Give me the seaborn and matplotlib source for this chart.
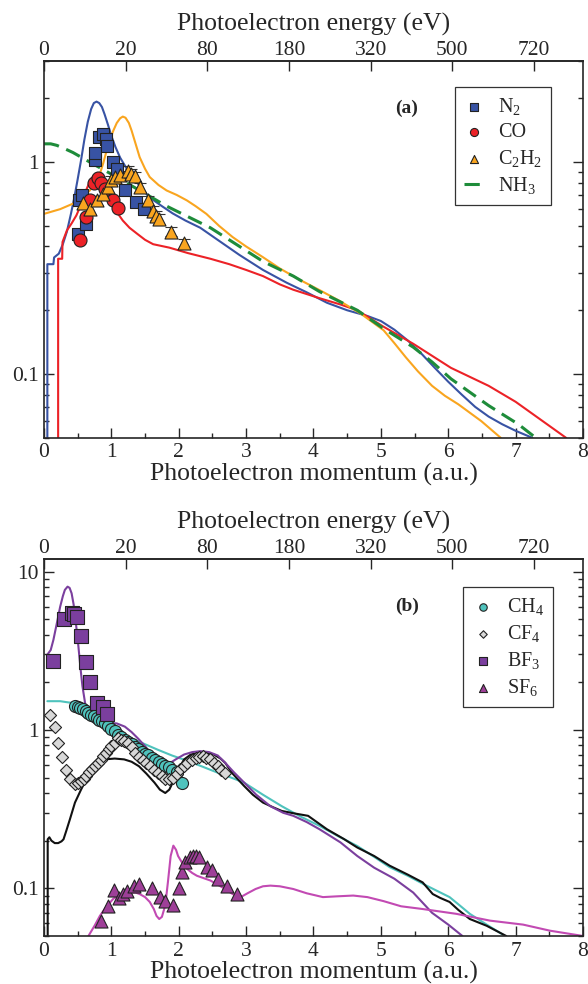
import numpy as np
import pandas as pd
import matplotlib
matplotlib.use("Agg")
import matplotlib.pyplot as plt
import seaborn as sns
from matplotlib.ticker import LogLocator, MultipleLocator, FuncFormatter, NullFormatter

# ---------------- data ----------------
HARTREE = 27.211
E_TICKS = [0, 20, 80, 180, 320, 500, 720]

# panel (a): theory curves
N2_K = [0.05, 0.05, 0.14, 0.15, 0.22, 0.28, 0.34, 0.40, 0.45, 0.50, 0.55, 0.60, 0.65, 0.70, 0.74, 0.78, 0.82, 0.86,
        0.90, 0.95, 1.00, 1.06, 1.13, 1.22, 1.32, 1.45, 1.57, 1.75, 1.91, 2.1, 2.32, 2.6, 2.9, 3.25, 3.6, 3.9, 4.2,
        4.5, 4.8, 5.0, 5.2, 5.4, 5.6, 5.8, 6.0, 6.2, 6.4, 6.6, 6.8, 7.0, 7.25]
N2_Y = [0.04, 0.33, 0.33, 0.355, 0.37, 0.41, 0.47, 0.57, 0.68, 0.83, 1.02, 1.28, 1.55, 1.78, 1.9, 1.93, 1.9, 1.82,
        1.68, 1.5, 1.33, 1.18, 1.05, 0.94, 0.85, 0.75, 0.68, 0.62, 0.573, 0.53, 0.49, 0.425, 0.365, 0.31, 0.27, 0.243,
        0.217, 0.200, 0.188, 0.178, 0.162, 0.144, 0.125, 0.107, 0.092, 0.08, 0.07, 0.063, 0.058, 0.054, 0.05]
CO_K = [0.21, 0.21, 0.27, 0.275, 0.34, 0.41, 0.48, 0.55, 0.62, 0.68, 0.73, 0.78, 0.83, 0.88, 0.93, 0.98, 1.04, 1.10,
        1.17, 1.27, 1.38, 1.50, 1.62, 1.86, 2.14, 2.47, 2.75, 3.0, 3.25, 3.5, 3.7, 4.09, 4.4, 4.65, 5.03, 5.48, 6.04,
        6.6, 7.0, 7.75]
CO_Y = [0.04, 0.35, 0.35, 0.42, 0.476, 0.514, 0.56, 0.63, 0.73, 0.81, 0.86, 0.885, 0.875, 0.84, 0.78, 0.71, 0.63, 0.57,
        0.53, 0.49, 0.46, 0.43, 0.41, 0.395, 0.372, 0.35, 0.33, 0.31, 0.29, 0.265, 0.25, 0.228, 0.213, 0.2, 0.168,
        0.139, 0.107, 0.088, 0.074, 0.05]
C2H2_K = [0.0, 0.24, 0.485, 0.68, 0.76, 0.83, 0.88, 0.93, 0.98, 1.03, 1.08, 1.13, 1.17, 1.21, 1.26, 1.3, 1.36, 1.42,
          1.5, 1.57, 1.7, 1.82, 1.97, 2.12, 2.25, 2.41, 2.6, 2.8, 3.0, 3.25, 3.5, 3.81, 4.1, 4.37, 4.7, 5.04, 5.2,
          5.37, 5.55, 5.76, 5.95, 6.15, 6.49, 6.78]
C2H2_Y = [0.57, 0.60, 0.648, 0.735, 0.8, 0.88, 0.99, 1.135, 1.28, 1.41, 1.53, 1.61, 1.64, 1.62, 1.53, 1.41, 1.22,
          1.055, 0.93, 0.85, 0.78, 0.735, 0.70, 0.66, 0.62, 0.57, 0.5, 0.443, 0.40, 0.356, 0.315, 0.277, 0.248, 0.223,
          0.193, 0.161, 0.14, 0.12, 0.103, 0.088, 0.079, 0.072, 0.06, 0.05]
NH3_K = [0.0, 0.1, 0.19, 0.3, 0.43, 0.73, 1.08, 1.42, 1.82, 2.47, 3.25, 3.7, 4.09, 4.65, 5.04, 5.48, 5.76, 6.04, 6.6,
         7.04, 7.3]
NH3_Y = [1.22, 1.22, 1.2, 1.16, 1.11, 0.98, 0.85, 0.735, 0.62, 0.49, 0.34, 0.29, 0.245, 0.2, 0.164, 0.134, 0.114,
         0.095, 0.071, 0.058, 0.05]

# panel (a): experiment
N2_EXP_K = [0.50, 0.52, 0.56, 0.63, 0.76, 0.76, 0.82, 0.87, 0.92, 0.94, 1.03, 1.08, 1.20, 1.36, 1.48]
N2_EXP_Y = [0.46, 0.66, 0.70, 0.51, 1.02, 1.11, 1.31, 1.36, 1.29, 1.19, 1.00, 0.93, 0.74, 0.65, 0.60]
CO_EXP_K = [0.54, 0.62, 0.68, 0.74, 0.80, 0.85, 0.90, 1.03, 1.10]
CO_EXP_Y = [0.43, 0.55, 0.66, 0.80, 0.84, 0.80, 0.75, 0.66, 0.61]
C2H2_EXP_K = [0.58, 0.69, 0.79, 0.88, 0.95, 1.00, 1.05, 1.13, 1.24, 1.29, 1.35, 1.42, 1.55, 1.62, 1.66, 1.71,
              1.89, 2.08]
C2H2_EXP_Y = [0.64, 0.60, 0.66, 0.71, 0.76, 0.82, 0.85, 0.866, 0.91, 0.88, 0.86, 0.76, 0.66, 0.59, 0.56, 0.54,
              0.47, 0.415]

# panel (b): theory curves
BF3_K = [0.05, 0.10, 0.14, 0.19, 0.24, 0.28, 0.31, 0.35, 0.38, 0.41, 0.44, 0.47, 0.51, 0.54, 0.57, 0.61, 0.65, 0.70,
         0.78, 0.93, 1.08, 1.2, 1.3, 1.4, 1.5, 1.6, 1.7, 1.78, 1.85, 1.95, 2.08, 2.2, 2.32, 2.45, 2.58, 2.69, 2.82,
         2.97, 3.15, 3.36, 3.55, 3.70, 3.9, 4.09, 4.4, 4.65, 4.9, 5.2, 5.48, 5.76, 6.0, 6.21]
BF3_Y = [2.99, 3.2, 3.71, 4.7, 6.0, 7.0, 7.67, 8.04, 7.9, 7.3, 6.2, 4.9, 3.4, 2.5, 1.9, 1.48, 1.3, 1.2, 1.14, 1.11,
         1.10, 1.05, 0.97, 0.88, 0.79, 0.70, 0.63, 0.60, 0.61, 0.65, 0.70, 0.725, 0.735, 0.725, 0.69, 0.62, 0.54,
         0.466, 0.39, 0.33, 0.30, 0.287, 0.262, 0.236, 0.195, 0.16, 0.135, 0.115, 0.094, 0.07, 0.059, 0.05]
CH4_K = [0.05, 0.15, 0.24, 0.33, 0.43, 0.53, 0.63, 0.73, 0.83, 0.93, 1.03, 1.13, 1.24, 1.45, 1.69, 1.9, 2.14, 2.36,
         2.58, 2.78, 2.97, 3.25, 3.53, 3.8, 4.09, 4.37, 4.65, 4.9, 5.13, 5.4, 5.62, 5.82, 6.02, 6.17, 6.32, 6.57, 6.81]
CH4_Y = [1.52, 1.52, 1.52, 1.5, 1.48, 1.43, 1.38, 1.29, 1.19, 1.12, 1.06, 0.98, 0.91, 0.83, 0.75, 0.69, 0.636, 0.585,
         0.537, 0.50, 0.465, 0.39, 0.33, 0.285, 0.248, 0.213, 0.185, 0.158, 0.136, 0.12, 0.107, 0.097, 0.088, 0.078,
         0.069, 0.059, 0.051]
CF4_K = [0.055, 0.055, 0.08, 0.11, 0.16, 0.21, 0.26, 0.29, 0.33, 0.385, 0.46, 0.55, 0.63, 0.74, 0.82, 0.9, 1.05, 1.19,
         1.3, 1.41, 1.52, 1.64, 1.72, 1.8, 1.86, 1.91, 2.0, 2.08, 2.18, 2.3, 2.42, 2.52, 2.62, 2.69, 2.8, 2.97, 3.1,
         3.25, 3.4, 3.53, 3.7, 3.92, 4.05, 4.2, 4.45, 4.65, 4.9, 5.13, 5.4, 5.62, 5.77, 5.88, 6.02, 6.15, 6.32, 6.57,
         6.86]
CF4_Y = [0.04, 0.204, 0.21, 0.2, 0.193, 0.193, 0.198, 0.204, 0.23, 0.273, 0.348, 0.42, 0.49, 0.58, 0.63, 0.652, 0.66,
         0.652, 0.63, 0.59, 0.53, 0.465, 0.42, 0.40, 0.42, 0.465, 0.57, 0.652, 0.70, 0.718, 0.715, 0.70, 0.66, 0.62,
         0.53, 0.443, 0.39, 0.348, 0.325, 0.308, 0.298, 0.287, 0.262, 0.236, 0.205, 0.181, 0.16, 0.139, 0.122, 0.109,
         0.092, 0.087, 0.082, 0.073, 0.064, 0.058, 0.05]
SF6_K = [0.66, 0.75, 0.83, 0.93, 1.03, 1.15, 1.28, 1.36, 1.42, 1.5, 1.57, 1.63, 1.67, 1.71, 1.75, 1.8, 1.84, 1.88,
         1.92, 1.96, 1.99, 2.05, 2.12, 2.2, 2.27, 2.47, 2.69, 2.8, 2.92, 3.02, 3.14, 3.25, 3.36, 3.5, 3.7, 3.9, 4.14,
         4.35, 4.59, 4.8, 5.04, 5.3, 5.62, 6.12, 6.62, 7.11, 7.51, 8.0]
SF6_Y = [0.05, 0.058, 0.067, 0.077, 0.086, 0.092, 0.094, 0.094, 0.092, 0.088, 0.082, 0.074, 0.067, 0.064, 0.066,
         0.078, 0.11, 0.16, 0.186, 0.175, 0.16, 0.145, 0.133, 0.125, 0.12, 0.112, 0.099, 0.092, 0.088, 0.093, 0.099,
         0.103, 0.104, 0.103, 0.099, 0.093, 0.088, 0.089, 0.09, 0.088, 0.083, 0.077, 0.074, 0.069, 0.0625, 0.059,
         0.054, 0.05]

# panel (b): experiment
CH4_EXP_K = [0.46, 0.50, 0.54, 0.58, 0.62, 0.66, 0.70, 0.74, 0.78, 0.82, 0.86, 0.90, 0.95, 1.00, 1.05, 1.10, 1.15,
             1.20, 1.25, 1.30, 1.35, 1.40, 1.45, 1.50, 1.55, 1.60, 1.65, 1.70, 1.75, 1.80, 1.85, 1.90, 1.97, 2.05]
CH4_EXP_Y = [1.41, 1.40, 1.38, 1.35, 1.31, 1.28, 1.25, 1.22, 1.19, 1.16, 1.14, 1.10, 1.06, 1.02, 0.98, 0.93, 0.90,
             0.87, 0.84, 0.81, 0.78, 0.76, 0.73, 0.71, 0.69, 0.67, 0.65, 0.63, 0.61, 0.59, 0.58, 0.56, 0.54, 0.465]
CF4_EXP_K = [0.09, 0.16, 0.21, 0.27, 0.32, 0.38, 0.46, 0.51, 0.55, 0.59, 0.63, 0.67, 0.71, 0.75, 0.80, 0.84, 0.88,
             0.92, 0.96, 1.00, 1.05, 1.10, 1.14, 1.19, 1.24, 1.30, 1.35, 1.41, 1.47, 1.52, 1.58, 1.63, 1.69, 1.75,
             1.80, 1.86, 1.91, 1.97, 2.02, 2.08, 2.13, 2.19, 2.25, 2.30, 2.36, 2.41, 2.47, 2.52, 2.58, 2.63, 2.69]
CF4_EXP_Y = [1.25, 1.04, 0.83, 0.68, 0.56, 0.49, 0.454, 0.46, 0.476, 0.49, 0.512, 0.54, 0.564, 0.59, 0.62, 0.65,
             0.684, 0.72, 0.754, 0.79, 0.83, 0.893, 0.87, 0.85, 0.83, 0.78, 0.72, 0.68, 0.65, 0.62, 0.59, 0.56, 0.537,
             0.51, 0.488, 0.49, 0.50, 0.53, 0.564, 0.59, 0.62, 0.645, 0.668, 0.68, 0.684, 0.67, 0.652, 0.62, 0.59,
             0.56, 0.537]
BF3_EXP_K = [0.13, 0.29, 0.41, 0.45, 0.49, 0.55, 0.62, 0.68, 0.78, 0.87, 0.94]
BF3_EXP_Y = [2.71, 5.0, 5.52, 5.4, 5.2, 3.95, 2.67, 2.0, 1.47, 1.40, 1.26]
SF6_EXP_K = [0.85, 0.95, 1.04, 1.12, 1.18, 1.23, 1.33, 1.41, 1.61, 1.72, 1.80, 1.91, 2.01, 2.05, 2.10, 2.16, 2.21,
             2.26, 2.30, 2.42, 2.50, 2.58, 2.72, 2.86]
SF6_EXP_Y = [0.062, 0.077, 0.098, 0.087, 0.092, 0.096, 0.103, 0.106, 0.101, 0.088, 0.083, 0.079, 0.101, 0.126, 0.146,
             0.157, 0.160, 0.160, 0.157, 0.136, 0.130, 0.115, 0.104, 0.092]

# ---------------- style ----------------
sns.set_style("ticks")
plt.rcParams["font.family"] = ["Liberation Serif", "DejaVu Serif"]
plt.rcParams["mathtext.fontset"] = "custom"
plt.rcParams["mathtext.rm"] = "Liberation Serif"
plt.rcParams["mathtext.it"] = "Liberation Serif:italic"
plt.rcParams["mathtext.default"] = "regular"
plt.rcParams["legend.fancybox"] = False
plt.rcParams["axes.linewidth"] = 1.2

TICK_FS = 15.5
LABEL_FS = 18.5


def k2e(k):
    k = np.asarray(k, dtype=float)
    return np.sign(k) * 0.5 * HARTREE * k**2


def e2k(e):
    e = np.asarray(e, dtype=float)
    return np.sign(e) * np.sqrt(np.abs(e) * 2.0 / HARTREE)


def line(ax, k, y, color, **kw):
    sns.lineplot(x=k, y=y, color=color, ax=ax, estimator=None, sort=False, linewidth=1.5, **kw)


def points(ax, k, y, color, marker, size, label):
    sns.scatterplot(x=k, y=y, color=color, marker=marker, s=size, edgecolor="#222222", linewidth=0.8,
                    ax=ax, label=label, zorder=3)


def style_axes(ax, ylim, tag, legend_order, legend_anchor):
    ax.set_xlim(0, 8)
    ax.set_yscale("log")
    ax.set_ylim(*ylim)
    ax.xaxis.set_major_locator(MultipleLocator(1))
    ax.xaxis.set_minor_locator(MultipleLocator(0.5))
    ax.yaxis.set_major_locator(LogLocator(base=10))
    ax.yaxis.set_minor_locator(LogLocator(base=10, subs=np.arange(2, 10)))
    ax.yaxis.set_major_formatter(FuncFormatter(lambda v, _: f"{v:g}"))
    ax.yaxis.set_minor_formatter(NullFormatter())
    ax.tick_params(which="both", direction="in", top=False, right=True, labelsize=TICK_FS, width=1.0)
    ax.tick_params(which="major", length=7.5, pad=4)
    ax.tick_params(which="minor", length=3.8)
    ax.set_xlabel("Photoelectron momentum (a.u.)", fontsize=LABEL_FS, labelpad=0)
    ax.set_ylabel("")

    sec = ax.secondary_xaxis("top", functions=(k2e, e2k))
    sec.set_xticks(E_TICKS)
    sec.set_xticklabels([str(e) for e in E_TICKS])
    sec.tick_params(direction="in", length=7.5, width=1.0, labelsize=TICK_FS, pad=0.5)
    sec.set_xlabel("Photoelectron energy (eV)", fontsize=LABEL_FS, labelpad=7.5)

    ax.text(0.673, 0.875, tag, transform=ax.transAxes, ha="center", va="center", fontsize=14, fontweight="bold")

    handles, labels = ax.get_legend_handles_labels()
    lookup = dict(zip(labels, handles))
    leg = ax.legend([lookup[l] for l in legend_order], legend_order, loc="upper right",
                    bbox_to_anchor=legend_anchor, borderaxespad=0, fontsize=14.5, markerscale=0.62,
                    handlelength=1.0, handletextpad=0.7, labelspacing=0.3, borderpad=0.45,
                    frameon=True, edgecolor="#333333", framealpha=1)
    leg.get_frame().set_linewidth(0.9)


fig = plt.figure(figsize=(5.88, 9.84), dpi=100)
ax_a = fig.add_axes([0.0748, 0.555, 0.9167, 0.383])
ax_b = fig.add_axes([0.0748, 0.0488, 0.9167, 0.383])

# ---------------- panel (a) ----------------
BLUE, RED, ORANGE, GREEN = "#3853a4", "#ec2227", "#f9a51f", "#1e8c3a"
points(ax_a, N2_EXP_K, N2_EXP_Y, BLUE, "s", 82, "N$_2$")
points(ax_a, CO_EXP_K, CO_EXP_Y, RED, "o", 88, "CO")
c2h2_err = [0.05 * v for v in C2H2_EXP_Y]
ax_a.errorbar(C2H2_EXP_K, C2H2_EXP_Y, yerr=c2h2_err, fmt="none", ecolor="#333333", elinewidth=0.8, capsize=4,
              capthick=0.8, zorder=2.5)
points(ax_a, C2H2_EXP_K, C2H2_EXP_Y, ORANGE, "^", 88, "C$_2$H$_2$")
line(ax_a, N2_K, N2_Y, BLUE)
line(ax_a, CO_K, CO_Y, RED)
line(ax_a, C2H2_K, C2H2_Y, ORANGE)
line(ax_a, NH3_K, NH3_Y, GREEN, linestyle=(0, (5, 2.6)), label="NH$_3$")
ax_a.lines[-1].set_linewidth(2.2)
style_axes(ax_a, (0.05, 3.0), "(a)", ["N$_2$", "CO", "C$_2$H$_2$", "NH$_3$"], (0.941, 0.931))

# ---------------- panel (b) ----------------
TEAL, GREY, PURPLE, MAGENTA = "#4fc3bd", "#d8d8d8", "#7b3f9e", "#c24ab3"
points(ax_b, CH4_EXP_K, CH4_EXP_Y, TEAL, "o", 75, "CH$_4$")
points(ax_b, CF4_EXP_K, CF4_EXP_Y, GREY, "D", 38, "CF$_4$")
points(ax_b, BF3_EXP_K, BF3_EXP_Y, PURPLE, "s", 88, "BF$_3$")
points(ax_b, SF6_EXP_K, SF6_EXP_Y, "#9e3f98", "^", 88, "SF$_6$")
line(ax_b, CH4_K, CH4_Y, TEAL)
line(ax_b, CF4_K, CF4_Y, "#111111")
line(ax_b, BF3_K, BF3_Y, PURPLE)
line(ax_b, SF6_K, SF6_Y, MAGENTA)
style_axes(ax_b, (0.05, 12.0), "(b)", ["CH$_4$", "CF$_4$", "BF$_3$", "SF$_6$"], (0.944, 0.926))

fig.savefig("out.png", dpi=100)
